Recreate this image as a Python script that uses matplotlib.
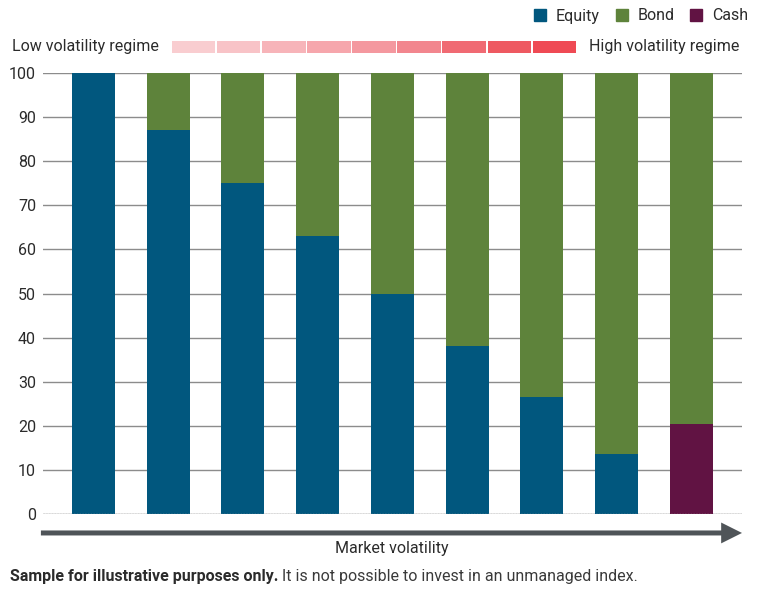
"""Stacked allocation bars by volatility regime (recreation)."""

import matplotlib.pyplot as plt
from matplotlib.patches import Patch

plt.rcParams["font.family"] = ["Liberation Sans Narrow", "Roboto", "DejaVu Sans"]

# data
equity = [100, 87, 75, 63, 50, 38, 26.5, 13.5, 0]
cash = [0, 0, 0, 0, 0, 0, 0, 0, 20.5]
bond = [100 - e - c for e, c in zip(equity, cash)]
y_ticks = [0, 10, 20, 30, 40, 50, 60, 70, 80, 90, 100]
regime_colors = ["#f9cdd0", "#f8c3c7", "#f7b4b9", "#f6a6ac", "#f4989f",
                 "#f2868e", "#f06a73", "#ee5961", "#ef4a54"]

EQ_C, BOND_C, CASH_C = "#01577e", "#5e833b", "#611343"
TXT = "#2b2b2b"
FS = 11.5

fig = plt.figure(figsize=(7.64, 6.06), dpi=100)
ax = fig.add_axes([43 / 764, 1 - 514 / 606, 699 / 764, 441 / 606])

x = list(range(len(equity)))
w = 0.576
ax.bar(x, equity, width=w, color=EQ_C, zorder=3)
ax.bar(x, bond, width=w, bottom=[e + c for e, c in zip(equity, cash)],
       color=BOND_C, zorder=3)
ax.bar(x, cash, width=w, bottom=equity, color=CASH_C, zorder=3)

ax.set_xlim(-0.677, 8.68)
ax.set_ylim(0, 100)
ax.set_yticks(y_ticks)
ax.set_xticks([])
ax.tick_params(axis="y", length=0, pad=5, labelsize=FS, labelcolor=TXT)
ax.grid(axis="y", color="#8c8c8c", linewidth=1, zorder=0)
for s in ax.spines.values():
    s.set_visible(False)
ax.axhline(0, color="#a0a0a0", linewidth=1, linestyle=(0, (1, 1)), zorder=4)

# market volatility arrow
ax.annotate("", xy=(1.0, -0.043), xytext=(-0.003, -0.043),
            xycoords="axes fraction",
            arrowprops=dict(arrowstyle="simple,head_length=1.5,head_width=1.5,"
                                       "tail_width=0.36",
                            mutation_scale=10, color="#4f5458", lw=0,
                            shrinkA=0, shrinkB=0),
            annotation_clip=False)
fig.text(392 / 764, 1 - 548 / 606, "Market volatility", ha="center",
         va="center", fontsize=FS, color=TXT)

# regime strip
sax = fig.add_axes([171 / 764, 1 - 53 / 606, 406 / 764, 12 / 606])
sax.bar(range(len(regime_colors)), [1] * len(regime_colors), width=0.965,
        color=regime_colors)
sax.set_xlim(-0.5, len(regime_colors) - 0.5)
sax.set_ylim(0, 1)
sax.axis("off")
fig.text(12 / 764, 1 - 46 / 606, "Low volatility regime", ha="left",
         va="center", fontsize=FS, color=TXT)
fig.text(589 / 764, 1 - 46 / 606, "High volatility regime", ha="left",
         va="center", fontsize=FS, color=TXT)

# legend
handles = [Patch(color=EQ_C, label="Equity"), Patch(color=BOND_C, label="Bond"),
           Patch(color=CASH_C, label="Cash")]
fig.legend(handles=handles, loc="center right",
           bbox_to_anchor=(748 / 764, 1 - 16 / 606), ncol=3, frameon=False,
           handlelength=0.75, handleheight=0.75, handletextpad=0.6,
           columnspacing=1.0, borderpad=0, borderaxespad=0, fontsize=FS,
           labelcolor=TXT)

# footnote
t1 = fig.text(10 / 764, 1 - 577 / 606, "Sample for illustrative purposes only.",
              ha="left", va="center", fontsize=FS, fontweight="bold", color=TXT)
fig.canvas.draw()
ax.annotate(" It is not possible to invest in an unmanaged index.",
            xy=(1, 0), xycoords=t1, ha="left", va="bottom", fontsize=FS,
            color="#3a3a3a", annotation_clip=False)

fig.savefig("out.png", dpi=100)
